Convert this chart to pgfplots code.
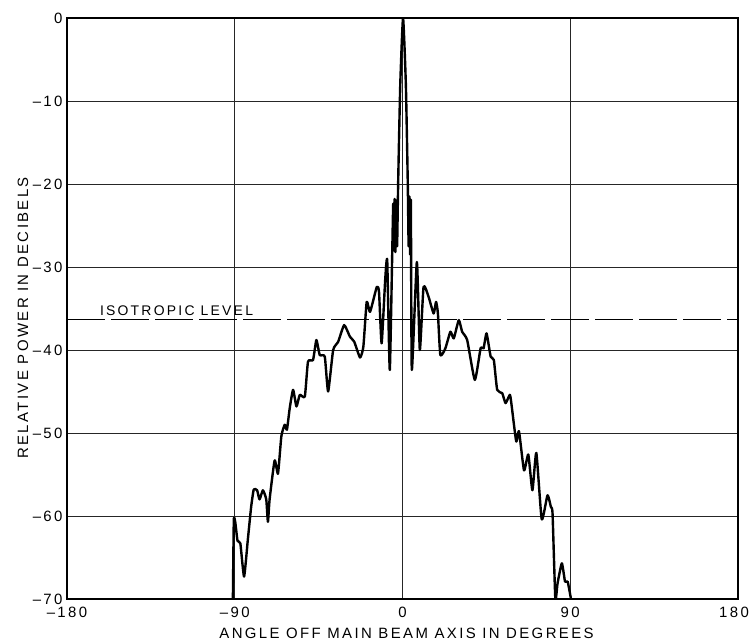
\documentclass[border=0pt]{standalone}
\usepackage{pgfplots}
\pgfplotsset{compat=1.18}
\usepackage{fontspec}
\setmainfont[LetterSpace=16]{Liberation Sans}
\pgfplotstableread{
x y
-91 -70
-90.5 -60.5
-89.7 -60.8
-88.5 -63.0
-87 -63.3
-85 -67.3
-83 -62.9
-81.2 -58.9
-79.8 -56.8
-78 -56.9
-76.7 -58.0
-74.9 -56.9
-73.1 -58.0
-72.2 -60.7
-71.3 -58.0
-68.6 -53.3
-66.8 -54.9
-65 -50.4
-63.2 -49.0
-62 -49.6
-60.5 -47.0
-58.7 -44.8
-56.9 -46.8
-55.1 -45.4
-52.4 -45.6
-50.7 -41.4
-48 -41.2
-46.2 -38.8
-44.4 -40.6
-41.7 -40.8
-39.9 -45.0
-37.2 -40.0
-34.5 -39.0
-31.3 -37.0
-28.2 -38.4
-25.9 -39.0
-22.8 -40.9
-21.0 -39.6
-19.2 -34.2
-17.4 -35.4
-13.8 -32.4
-12.6 -33.0
-11.2 -39.2
-9.3 -31.6
-8.2 -29.2
-6.8 -42.4
-5.0 -22.5
-4.6 -28.0
-4.2 -21.8
-3.8 -28.2
-3.3 -22.0
-2.9 -27.5
-2.3 -19.5
-1.2 -8
0.3 0
1.8 -8
2.8 -19.5
3.3 -27.5
3.7 -21.5
4.1 -28.5
4.5 -22
5.0 -42.4
7.7 -29.4
9.3 -40.0
11.3 -32.4
14.0 -33.6
16.7 -35.6
18 -34.2
19 -35.6
20.3 -40.6
23 -39.8
25.7 -37.8
27.5 -38.6
30.2 -36.4
32 -37.8
34.7 -38.8
38.8 -43.6
41.9 -39.8
43.5 -39.8
45.1 -38.0
47.3 -40.8
49.0 -41.2
50.8 -44.8
53.5 -45.2
55.3 -46.4
57.6 -45.4
58.5 -46.6
61 -51.0
62.5 -49.8
65.2 -54.5
67.5 -52.6
69.7 -56.9
71.8 -52.4
74.7 -60.4
77.8 -57.5
79.6 -58.9
80.5 -59.7
82 -70
83.2 -68.1
85.5 -65.7
87.2 -67.9
88.6 -67.9
90.4 -70
}\pattern
\pgfplotstableread{
x y
-180 -36.3
180 -36.3
}\iso
\begin{document}
\begin{tikzpicture}
\useasboundingbox (-67bp,-41bp) rectangle (684bp,599bp);
\begin{axis}[
  at={(0,0)}, anchor=south west,
  scale only axis, width=671bp, height=581bp,
  xmin=-180, xmax=180, ymin=-70, ymax=0,
  xtick={-180,-90,0,90,180},
  xticklabels={\textendash{}180,\textendash{}90,0,90,\hspace*{-8bp}180},
  ytick={-70,-60,-50,-40,-30,-20,-10,0},
  yticklabels={\textendash{}70,\textendash{}60,\textendash{}50,\textendash{}40,\textendash{}30,\textendash{}20,\textendash{}10,0},
  grid=major,
  major grid style={black!85, line width=0.8bp},
  major tick length=0pt,
  axis line style={black, line width=1.4bp},
  tick label style={font=\fontsize{15}{15}\selectfont},
  label style={font=\fontsize{15}{15}\selectfont},
  xlabel={ANGLE OFF MAIN BEAM AXIS IN DEGREES},
  ylabel={RELATIVE POWER IN DECIBELS},
  xlabel style={at={(axis description cs:0.506,-0.0585)}, anchor=center},
  ylabel style={at={(axis description cs:-0.0656,0.484)}, anchor=center},
  xticklabel style={yshift=-5bp},
  yticklabel style={xshift=-1bp},
]
\addplot[black, line width=1.1bp, dash pattern=on 38bp off 6bp] table[x=x,y=y] {\iso};
\addplot[black, line width=2.4bp, line join=round, line cap=round, smooth, tension=0.3] table[x=x,y=y] {\pattern};
\node[anchor=base west, font=\fontsize{14}{14}\selectfont, inner sep=0pt] at (axis cs:-162.4,-35.85) {ISOTROPIC LEVEL};
\end{axis}
\end{tikzpicture}
\end{document}
